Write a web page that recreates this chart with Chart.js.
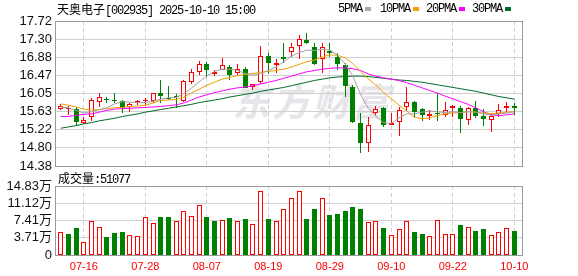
<!DOCTYPE html>
<html>
<head>
<meta charset="utf-8">
<script src="https://cdn.jsdelivr.net/npm/chart.js@4.4.1/dist/chart.umd.min.js"></script>
<style>
  html, body { margin: 0; padding: 0; background: #fff; }
  #wrap { position: relative; width: 578px; height: 276px; overflow: hidden; }
  canvas { position: absolute; left: 0; top: 0; }
  .txt { position: absolute; white-space: nowrap; font-size: 12px; line-height: 14px; color: #000; }
  .mono { font-family: "Liberation Mono", monospace; letter-spacing: -1.2px; }
  .cjk { font-family: "Noto Sans CJK SC", sans-serif; }
  .mk { position: absolute; top: 7px; width: 6px; height: 4px; }
  #wm { position: absolute; left: 232px; top: 72px; font-family: "Noto Sans CJK SC", sans-serif;
        font-size: 38px; font-weight: bold; font-style: italic; color: #e6e6ea; letter-spacing: 2px; }
</style>
</head>
<body>
<div id="wrap">
  <div id="wm">东方财富</div>
  <canvas id="priceChart" width="578" height="276"></canvas>
  <canvas id="volumeChart" width="578" height="276"></canvas>

  <div class="txt" style="left:57px; top:2px;"><span class="cjk">天奥电子</span><span class="mono">[002935] 2025-10-10 15:00</span></div>

  <div class="txt mono" style="left:338px; top:2px;">5PMA</div>
  <div class="mk" style="left:365px; background:#a8a8a8;"></div>
  <div class="txt mono" style="left:380px; top:2px;">10PMA</div>
  <div class="mk" style="left:413px; background:#f0a000;"></div>
  <div class="txt mono" style="left:426px; top:2px;">20PMA</div>
  <div class="mk" style="left:459px; background:#ff00ff;"></div>
  <div class="txt mono" style="left:472px; top:2px;">30PMA</div>
  <div class="mk" style="left:505px; background:#006a2a;"></div>

  <div class="txt" style="left:58px; top:171px;"><span class="cjk">成交量</span><span class="mono">:51077</span></div>
</div>

<script>
// trading days shown on the chart
var dates = ['07-11','07-14','07-15','07-16','07-17','07-18','07-21','07-22','07-23','07-24',
  '07-25','07-28','07-29','07-30','07-31','08-01','08-04','08-05','08-06','08-07',
  '08-08','08-11','08-12','08-13','08-14','08-15','08-18','08-19','08-20','08-21',
  '08-22','08-25','08-26','08-27','08-28','08-29','09-01','09-02','09-03','09-04',
  '09-05','09-08','09-09','09-10','09-11','09-12','09-15','09-16','09-17','09-18',
  '09-19','09-22','09-23','09-24','09-25','09-26','09-29','09-30','10-09','10-10'];

var openP = [15.69,15.70,15.70,15.38,15.50,15.86,15.92,15.90,15.87,15.73,
  15.83,15.88,15.88,16.05,15.95,15.99,15.88,16.32,16.54,16.74,
  16.50,16.59,16.66,16.52,16.61,16.21,16.32,16.91,16.70,16.90,
  17.00,17.14,17.28,17.11,16.84,17.04,16.88,16.71,16.21,15.36,
  14.92,15.61,15.72,15.32,15.39,15.73,15.86,15.69,15.54,15.61,
  15.56,15.71,15.71,15.44,15.71,15.53,15.45,15.57,15.72,15.76];
var highP = [15.80,15.76,15.73,15.50,15.94,16.05,15.98,16.05,15.90,15.84,
  15.90,15.95,16.07,16.36,16.23,16.04,16.36,16.61,16.81,16.77,
  16.58,16.87,16.71,16.72,16.66,16.28,17.14,16.99,16.84,17.22,
  17.22,17.40,17.44,17.21,17.22,17.22,16.98,16.75,16.25,15.59,
  15.52,15.76,15.73,15.59,15.73,16.21,15.88,15.71,15.67,16.05,
  15.86,15.79,15.76,15.75,15.88,15.69,15.57,15.81,15.86,15.82];
var lowP = [15.66,15.55,15.29,15.35,15.42,15.75,15.84,15.82,15.61,15.63,
  15.78,15.79,15.84,15.82,15.90,15.71,15.85,16.28,16.48,16.44,
  16.45,16.58,16.35,16.48,16.17,16.13,16.28,16.51,16.53,16.75,
  16.88,16.84,17.19,16.71,16.53,16.88,16.59,15.96,15.36,14.69,
  14.71,15.55,15.27,15.32,15.07,15.65,15.50,15.42,15.45,15.42,
  15.52,15.52,15.15,15.32,15.48,15.29,15.17,15.52,15.63,15.56];
var closeP = [15.76,15.72,15.39,15.45,15.89,15.96,15.90,15.88,15.72,15.80,
  15.87,15.90,16.05,15.99,15.92,15.96,16.34,16.54,16.73,16.58,
  16.55,16.70,16.48,16.61,16.18,16.26,16.91,16.75,16.76,16.84,
  17.11,17.30,17.22,16.72,17.11,16.98,16.72,16.23,15.40,14.90,
  15.32,15.70,15.32,15.36,15.67,15.86,15.63,15.56,15.58,15.58,
  15.66,15.76,15.47,15.71,15.54,15.47,15.54,15.67,15.76,15.72];

var ma5 = [15.74,15.72,15.66,15.60,15.63,15.68,15.72,15.81,15.86,15.85,
  15.84,15.84,15.87,15.92,15.95,15.96,16.05,16.17,16.32,16.45,
  16.56,16.61,16.61,16.58,16.51,16.47,16.51,16.58,16.66,16.78,
  16.91,16.99,17.05,17.04,17.07,17.05,16.93,16.73,16.45,16.03,
  15.71,15.52,15.38,15.36,15.49,15.58,15.58,15.62,15.65,15.63,
  15.61,15.63,15.61,15.63,15.62,15.58,15.55,15.58,15.60,15.63];
var ma10 = [15.81,15.78,15.74,15.69,15.67,15.68,15.70,15.72,15.73,15.75,
  15.76,15.78,15.83,15.89,15.90,15.91,15.97,16.06,16.15,16.24,
  16.31,16.38,16.42,16.46,16.49,16.51,16.54,16.56,16.58,16.61,
  16.66,16.72,16.78,16.82,16.89,16.94,16.93,16.87,16.74,16.56,
  16.39,16.24,16.07,15.93,15.78,15.65,15.50,15.47,15.49,15.54,
  15.58,15.60,15.61,15.63,15.62,15.60,15.59,15.60,15.62,15.63];
var ma20 = [15.52,15.52,15.55,15.57,15.58,15.62,15.66,15.69,15.70,15.71,
  15.72,15.73,15.74,15.75,15.77,15.79,15.83,15.90,15.97,16.02,
  16.07,16.11,16.15,16.18,16.20,16.23,16.27,16.31,16.35,16.40,
  16.45,16.50,16.55,16.58,16.61,16.63,16.64,16.64,16.62,16.58,
  16.50,16.45,16.41,16.38,16.35,16.30,16.24,16.18,16.12,16.06,
  15.99,15.93,15.86,15.80,15.72,15.63,15.56,15.54,15.56,15.58];
var ma30 = [15.25,15.28,15.31,15.35,15.38,15.42,15.45,15.48,15.52,15.55,
  15.58,15.62,15.65,15.68,15.71,15.74,15.77,15.80,15.84,15.87,
  15.90,15.93,15.97,16.00,16.03,16.06,16.10,16.13,16.16,16.19,
  16.23,16.27,16.31,16.35,16.38,16.41,16.43,16.44,16.45,16.45,
  16.44,16.42,16.40,16.38,16.36,16.35,16.33,16.31,16.28,16.25,
  16.22,16.19,16.16,16.13,16.10,16.06,16.02,15.98,15.95,15.92];

// volume in 万, and whether the bar is drawn red (1) or green (0)
var volume = [4.9,4.6,5.7,2.9,7.4,6.1,3.8,4.7,4.9,4.4,
  4.0,8.1,6.8,8.1,8.1,7.4,9.4,8.3,10.7,8.1,
  7.3,7.6,7.9,7.4,7.7,6.6,13.7,7.7,7.4,9.8,
  12.2,13.7,7.7,9.9,12.2,8.6,8.8,9.4,10.3,9.9,
  7.2,7.4,5.8,4.2,5.5,7.4,4.9,4.5,4.0,7.6,
  4.6,4.6,6.4,6.1,5.1,5.5,4.4,5.0,5.9,5.1077];
var volUp = [1,0,0,1,1,1,0,0,0,1, 1,1,1,0,0,1,1,1,1,0,
  0,1,0,1,0,1,1,0,1,1, 1,1,0,0,1,0,0,0,0,0,
  1,1,0,1,1,1,0,0,1,1, 1,1,0,1,0,0,1,1,1,0];

var dateTicks = ['07-16','07-28','08-07','08-19','08-29','09-10','09-22','10-10'];
var priceTicks = [14.38,14.80,15.22,15.63,16.05,16.47,16.88,17.30,17.72];
var volTicks = [0,3.71,7.41,11.12,14.83];

var RED = '#ff0000';
var GREEN = '#008000';
var GRID = '#d0d0d0';
var FONT = "'Liberation Sans', 'Noto Sans CJK SC', sans-serif";

var tickIdx = dateTicks.map(function(d) { return dates.indexOf(d); });

function pts(arr) {
  return arr.map(function(v, i) { return {x: i, y: v}; });
}

// gray box round the plot area
var framePlugin = {
  id: 'frame',
  afterDraw: function(chart) {
    var a = chart.chartArea;
    var ctx = chart.ctx;
    ctx.save();
    ctx.strokeStyle = '#999';
    ctx.lineWidth = 1;
    ctx.strokeRect(Math.round(a.left) + 0.5, Math.round(a.top) + 0.5,
      Math.round(a.right - a.left), Math.round(a.bottom - a.top));
    ctx.restore();
  }
};

// put bars on whole pixels so thin borders stay sharp
var snapPlugin = {
  id: 'snap',
  afterDatasetsUpdate: function(chart) {
    chart.data.datasets.forEach(function(ds, di) {
      var meta = chart.getDatasetMeta(di);
      if (meta.type !== 'bar') return;
      meta.data.forEach(function(el) {
        el.x = Math.floor(el.x) + 0.5;
        el.y = Math.round(el.y);
        el.base = Math.round(el.base);
      });
    });
  }
};

function xAxis(showLabels) {
  return {
    type: 'linear',
    min: -0.75,
    max: 60,
    offset: false,
    afterBuildTicks: function(s) {
      s.ticks = tickIdx.map(function(v) { return {value: v}; });
    },
    afterFit: function(s) {
      s.height = showLabels ? 21 : 0;
      s.paddingLeft = 0;
      s.paddingRight = 0;
    },
    grid: { color: GRID, drawTicks: false, offset: false },
    border: { display: false, dash: [4, 3] },
    ticks: {
      display: showLabels,
      autoSkip: false,
      maxRotation: 0,
      padding: 5,
      color: RED,
      font: { family: FONT, size: 11 },
      callback: function(v) { return dates[v]; }
    }
  };
}

function yAxis(min, max, values, fmt) {
  return {
    min: min,
    max: max,
    afterBuildTicks: function(s) {
      s.ticks = values.map(function(v) { return {value: v}; });
    },
    afterFit: function(s) {
      s.width = 55;
      s.paddingTop = 0;
      s.paddingBottom = 0;
    },
    grid: { color: GRID, drawTicks: false },
    border: { display: false },
    ticks: {
      autoSkip: false,
      padding: 3,
      color: '#111',
      font: { family: FONT, size: 13 },
      callback: fmt
    }
  };
}

// candles: wick bar + body bar
var up = closeP.map(function(c, i) { return c >= openP[i]; });

var wickData = [];
var bodyData = [];
for (var i = 0; i < dates.length; i++) {
  wickData.push({x: i, y: [lowP[i], highP[i]]});
  bodyData.push({x: i, y: [openP[i], closeP[i]]});
}

function maLine(label, arr, color, order) {
  return {
    type: 'line',
    label: label,
    data: pts(arr),
    borderColor: color,
    borderWidth: 1,
    pointRadius: 0,
    tension: 0,
    order: order
  };
}

new Chart(document.getElementById('priceChart').getContext('2d'), {
  type: 'bar',
  data: {
    datasets: [
      {
        label: 'wick',
        data: wickData,
        backgroundColor: up.map(function(u) { return u ? RED : GREEN; }),
        borderWidth: 0,
        barThickness: 1,
        grouped: false,
        inflateAmount: 0,
        order: 10
      },
      {
        label: 'body',
        data: bodyData,
        backgroundColor: up.map(function(u) { return u ? '#ffffff' : GREEN; }),
        borderColor: up.map(function(u) { return u ? RED : GREEN; }),
        borderWidth: 1,
        borderSkipped: false,
        barThickness: 5,
        grouped: false,
        inflateAmount: 0,
        order: 9
      },
      maLine('30PMA', ma30, '#006a2a', 4),
      maLine('20PMA', ma20, '#ff00ff', 3),
      maLine('10PMA', ma10, '#f0a000', 2),
      maLine('5PMA', ma5, '#a0a0a0', 1)
    ]
  },
  options: {
    responsive: false,
    animation: false,
    layout: { padding: { left: 0, top: 21, right: 56, bottom: 110 } },
    plugins: { legend: { display: false }, tooltip: { enabled: false } },
    scales: {
      x: xAxis(false),
      y: yAxis(14.38, 17.72, priceTicks, function(v) { return v.toFixed(2); })
    }
  },
  plugins: [snapPlugin, framePlugin]
});

new Chart(document.getElementById('volumeChart').getContext('2d'), {
  type: 'bar',
  data: {
    datasets: [{
      label: '成交量',
      data: pts(volume),
      backgroundColor: volUp.map(function(u) { return u ? '#ffffff' : GREEN; }),
      borderColor: volUp.map(function(u) { return u ? RED : GREEN; }),
      borderWidth: 1,
      borderSkipped: false,
      barThickness: 5,
      grouped: false,
      inflateAmount: 0
    }]
  },
  options: {
    responsive: false,
    animation: false,
    layout: { padding: { left: 0, top: 186, right: 56, bottom: 0 } },
    plugins: { legend: { display: false }, tooltip: { enabled: false } },
    scales: {
      x: xAxis(true),
      y: yAxis(0, 14.83, volTicks, function(v) { return v === 0 ? '0' : v.toFixed(2) + '万'; })
    }
  },
  plugins: [snapPlugin, framePlugin]
});
</script>
</body>
</html>
